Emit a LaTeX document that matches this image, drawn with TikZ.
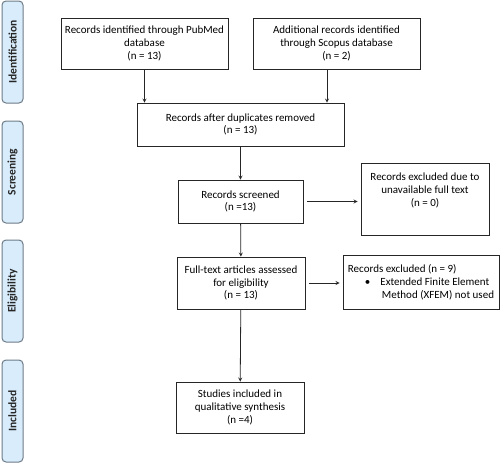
\documentclass[tikz,border=0pt]{standalone}
\usepackage{fontspec}
\setmainfont{Carlito}
\usetikzlibrary{arrows}

\definecolor{phasefill}{HTML}{D8ECFB}
\definecolor{phaseline}{HTML}{6E7C88}

\tikzset{
  box/.style={draw=black!85, line width=0.8pt, align=center, inner sep=2pt,
    font=\fontsize{11}{12.8}\selectfont},
  phase/.style={draw=phaseline, fill=phasefill, rounded corners=4pt,
    minimum width=21pt, minimum height=102pt, line width=1pt},
  phasetext/.style={rotate=90, text=black!85,
    font=\fontsize{11.5}{13}\selectfont\bfseries},
  flow/.style={line width=0.8pt, black!85, -stealth}
}

\begin{document}
\begin{tikzpicture}[x=1pt, y=-1pt]
  \useasboundingbox (0, 0) rectangle (500, 464);

  % Phases
  \node [phase] (ident) at (12.5, 52) {};
  \node [phasetext] at (ident) {Identification};
  \node [phase] (screen) at (12.5, 172) {};
  \node [phasetext] at (screen) {Screening};
  \node [phase] (elig) at (12.5, 291) {};
  \node [phasetext] at (elig) {Eligibility};
  \node [phase] (incl) at (12.5, 411) {};
  \node [phasetext] at (incl) {Included};

  % Identification
  \node [box, minimum width=167, minimum height=51] (pubmed) at (144.5, 43.5)
    {Records identified through PubMed\\database\\(n = 13)};
  \node [box, minimum width=167, minimum height=51] (scopus) at (336.5, 43.5)
    {Additional records identified\\through Scopus database\\(n = 2)};

  % Screening
  \node [box, minimum width=207, minimum height=43] (dupl) at (240.5, 124.5)
    {Records after duplicates removed\\(n = 13)};
  \node [box, minimum width=125, minimum height=43] (screened) at (240.5, 201.5)
    {Records screened\\(n =13)};
  \node [box, minimum width=128, minimum height=72] (exclA) at (425, 199) {};
  \node [align=center, anchor=north, font=\fontsize{11}{12.8}\selectfont]
    at ([yshift=-7]exclA.north) {Records excluded due to\\unavailable full text\\(n = 0)};

  % Eligibility
  \node [box, minimum width=128, minimum height=52] (fulltext) at (241, 283)
    {Full-text articles assessed\\for eligibility\\(n = 13)};
  \node [box, align=left, minimum width=156, minimum height=54] (exclB) at (421, 282)
    {Records excluded (n = 9)\\
     \hspace*{17pt}\textbullet\hspace{10pt}Extended Finite Element\\
     \hspace*{34pt}Method (XFEM) not used};

  % Included
  \node [box, minimum width=128, minimum height=51] (studies) at (240, 407.5)
    {Studies included in\\qualitative synthesis\\(n =4)};

  % Edges
  \draw [flow] (pubmed.south) -- (pubmed.south |- dupl.north);
  \draw [flow] ([xshift=-9.5]scopus.south) -- ([xshift=-9.5]scopus.south |- dupl.north);
  \draw [flow] (dupl) -- (screened);
  \draw [flow] ([xshift=4]screened.east) -- ([xshift=-3]screened.east -| exclA.west);
  \draw [flow] (screened) -- (fulltext);
  \draw [flow] ([xshift=4]fulltext.east) -- ([xshift=-3]fulltext.east -| exclB.west);
  \draw [flow] (fulltext) -- (studies);
\end{tikzpicture}
\end{document}
